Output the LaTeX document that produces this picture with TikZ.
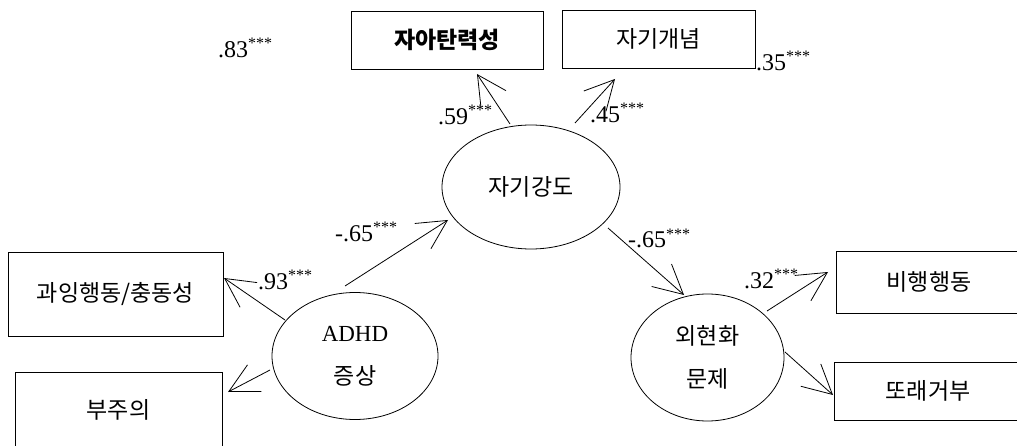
\documentclass[tikz,border=0pt]{standalone}
\usepackage{fontspec}
\setmainfont{Liberation Serif}
\newfontfamily\kr{Noto Sans CJK KR}
\usetikzlibrary{arrows.meta,shapes.geometric,calc}
\newcommand\mystars{\raisebox{9pt}{\fontsize{16}{16}\selectfont ***}}
\begin{document}
\begin{tikzpicture}[x=1pt,y=-1pt,
  box/.style={draw, line width=0.8pt, inner sep=0pt, outer sep=0pt, font=\kr\fontsize{23}{27}\selectfont},
  lat/.style={draw, ellipse, line width=0.8pt, inner sep=0pt, outer sep=0pt, align=center, font=\fontsize{23}{43}\selectfont},
  arr/.style={line width=0.8pt, -{Straight Barb[length=29pt,width=30pt]}},
  coef/.style={anchor=base west, inner sep=0pt, font=\fontsize{24}{28}\selectfont}]
\useasboundingbox (0,0) rectangle (1017,446);

% observed boxes
\node[box, minimum width=192pt, minimum height=58pt] (res) at (447,40) {\bfseries 자아탄력성};
\node[box, minimum width=193pt, minimum height=58pt] (con) at (658.5,39) {자기개념};
\node[box, minimum width=215pt, minimum height=84pt] (hyp) at (115.5,294) {과잉행동/충동성};
\node[box, minimum width=207pt, minimum height=76pt] (ina) at (118.5,410) {부주의};
\node[box, minimum width=186pt, minimum height=62pt] (beh) at (929,282) {비행행동};
\node[box, minimum width=188pt, minimum height=58pt] (pee) at (928,391) {또래거부};

% latent variables
\node[lat, minimum width=178pt, minimum height=124pt] (self) at (531,187) {{\kr 자기강도}};
\node[lat, minimum width=166pt, minimum height=127pt] (adhd) at (355,356) {ADHD\\{\kr 증상}};
\node[lat, minimum width=153pt, minimum height=127pt] (ext) at (707.5,357.5) {{\kr 외현화}\\{\kr 문제}};

% connectors
\draw[arr] ($(self.center)+(-21,-63)$) -- ($(res.south)+(30,5)$);
\draw[arr] ($(self.center)+(44,-64)$) -- ($(con.south)+(-43.5,11)$);
\draw[arr] ($(adhd.center)+(-10,-70)$) -- ($(self.center)+(-83,33)$);
\draw[arr] ($(self.center)+(77,41)$) -- ($(ext.center)+(-23.5,-62.5)$);
\draw[arr] ($(ext.center)+(59.5,-46.5)$) -- ($(beh.west)+(-8,-10)$);
\draw[arr] ($(ext.center)+(77.5,-5.5)$) -- ($(pee.west)+(-1,4)$);
\draw[arr] ($(adhd.center)+(-70,-36)$) -- ($(hyp.east)+(1,-16)$);
\draw[arr] ($(adhd.center)+(-85,14)$) -- ($(ina.east)+(6,-18)$);

% coefficients
\node[coef] (c83) at (218,58) {.83\mystars};
\node[coef] (c35) at (756,71) {.35\mystars};
\node[coef] (c59) at (438,125) {.59\mystars};
\node[coef] (c45) at (590,123) {.45\mystars};
\node[coef] (c65a) at (335,242) {-.65\mystars};
\node[coef] (c65b) at (628,248) {-.65\mystars};
\node[coef] (c93) at (258,290) {.93\mystars};
\node[coef] (c32) at (744,288) {.32\mystars};
\end{tikzpicture}
\end{document}
